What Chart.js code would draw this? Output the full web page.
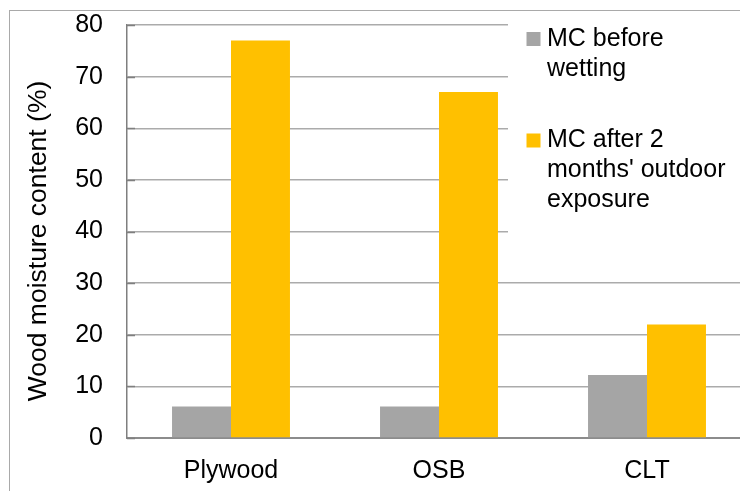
<!DOCTYPE html>
<html>
<head>
<meta charset="utf-8">
<script src="https://cdn.jsdelivr.net/npm/chart.js@4/dist/chart.umd.min.js"></script>
<style>
  html, body { margin: 0; padding: 0; width: 740px; height: 491px; overflow: hidden; background: #fff; }
  #wrap { position: relative; width: 740px; height: 491px; overflow: hidden; }
  #chart { position: absolute; left: 0; top: 0; }
  #frame { position: absolute; left: 9px; top: 10px; width: 900px; height: 600px;
           border-left: 1px solid #a9a9a9; border-top: 1px solid #a9a9a9; pointer-events: none; }
</style>
</head>
<body>
<div id="wrap">
  <canvas id="chart" width="800" height="491"></canvas>
  <div id="frame"></div>
</div>
<script>
// Wood moisture content by panel type
const categories = ['Plywood', 'OSB', 'CLT'];
const mcBefore = [6.1, 6.1, 12.2];
const mcAfter = [77, 67, 22];
const legendLines = [
  ['MC before', 'wetting'],
  ['MC after 2', "months' outdoor", 'exposure']
];
const axisTitle = 'Wood moisture content (%)';
const yMin = 0, yMax = 80, yStep = 10;

const FONT = "'Liberation Sans', Arial, sans-serif";
const colors = ['#a5a5a5', '#ffc000'];

// Y-axis title, inner tick marks and the overlaid legend box
const decorations = {
  id: 'decorations',
  afterDraw(chart) {
    const ctx = chart.ctx;
    const yScale = chart.scales.y;
    const area = chart.chartArea;

    // short inside tick marks on the value axis
    ctx.save();
    ctx.strokeStyle = '#7f7f7f';
    ctx.lineWidth = 1.5;
    yScale.ticks.forEach(t => {
      const py = Math.round(yScale.getPixelForValue(t.value)) + 0.5;
      ctx.beginPath();
      ctx.moveTo(area.left, py);
      ctx.lineTo(area.left + 8, py);
      ctx.stroke();
    });
    ctx.restore();

    // rotated axis title
    ctx.save();
    ctx.translate(39, 241);
    ctx.rotate(-Math.PI / 2);
    ctx.fillStyle = '#000';
    ctx.font = '26.5px ' + FONT;
    ctx.textAlign = 'center';
    ctx.textBaseline = 'middle';
    ctx.fillText(axisTitle, 0, 0);
    ctx.restore();

    // legend box overlapping the plot
    ctx.save();
    ctx.fillStyle = '#fff';
    ctx.fillRect(508, 12, chart.width - 508, 238);
    ctx.font = '25px ' + FONT;
    ctx.textAlign = 'left';
    ctx.textBaseline = 'alphabetic';
    const lineH = 30, itemGap = 41.5;
    let baseline = 45.5;
    chart.data.datasets.forEach((ds, i) => {
      ctx.fillStyle = ds.backgroundColor;
      ctx.fillRect(526.5, baseline - 13.5, 14, 14);
      ctx.fillStyle = '#000';
      legendLines[i].forEach((line, j) => {
        ctx.fillText(line, 547, baseline + j * lineH);
      });
      baseline += legendLines[i].length * lineH + itemGap;
    });
    ctx.restore();
  }
};

new Chart(document.getElementById('chart'), {
  type: 'bar',
  data: {
    labels: categories,
    datasets: [
      { label: legendLines[0].join(' '), data: mcBefore, backgroundColor: colors[0] },
      { label: legendLines[1].join(' '), data: mcAfter, backgroundColor: colors[1] }
    ]
  },
  options: {
    responsive: false,
    animation: false,
    devicePixelRatio: 1,
    layout: { padding: { left: 0, top: 25, right: 49, bottom: 0 } },
    datasets: { bar: { categoryPercentage: 0.567, barPercentage: 1.0 } },
    plugins: {
      legend: { display: false },
      tooltip: { enabled: false },
      title: { display: false }
    },
    scales: {
      x: {
        grid: { display: false, drawTicks: false },
        border: { display: true, color: '#8c8c8c', width: 2 },
        ticks: { color: '#000', padding: 18, font: { family: FONT, size: 25 } },
        afterFit(scale) { scale.height = 53; }
      },
      y: {
        min: yMin,
        max: yMax,
        grid: { color: '#ababab', lineWidth: 1.5, drawTicks: false },
        border: { display: true, color: '#7f7f7f', width: 1.5 },
        ticks: { stepSize: yStep, color: '#000', padding: 24, font: { family: FONT, size: 25 } },
        afterFit(scale) {
          scale.width = 127;
          scale.paddingTop = 0;
          scale.paddingBottom = 0;
        }
      }
    }
  },
  plugins: [decorations]
});
</script>
</body>
</html>
